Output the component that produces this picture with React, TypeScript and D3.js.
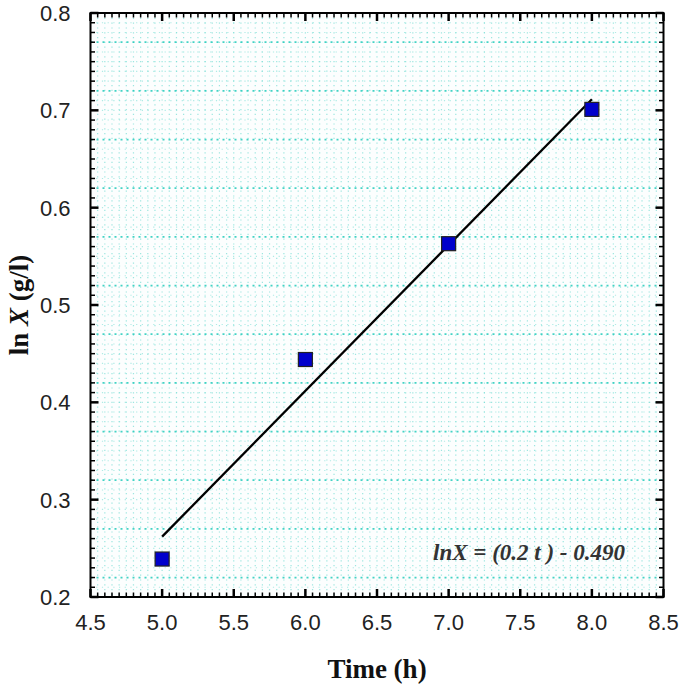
import React from "react";
import * as d3 from "d3";

const times = [5, 6, 7, 8];
const lnX = [0.239, 0.444, 0.563, 0.701];
const xTicks = [4.5, 5.0, 5.5, 6.0, 6.5, 7.0, 7.5, 8.0, 8.5];
const yTicks = [0.2, 0.3, 0.4, 0.5, 0.6, 0.7, 0.8];
const fitSlope = 0.1498;
const fitIntercept = -0.487;
const equationLabel = "lnX = (0.2 t ) - 0.490";

export default function App() {
  const W = 685, H = 690;
  const L = 90.5, R = 663.5, T = 13, B = 597;
  const x = d3.scaleLinear().domain([4.5, 8.5]).range([L, R]);
  const y = d3.scaleLinear().domain([0.2, 0.8]).range([B, T]);

  const xMinor = d3.range(0, 81).map((i) => 4.5 + i * 0.05);
  const yMinor = d3.range(0, 61).map((i) => 0.2 + i * 0.01);

  const line = d3.line<number>().x((t) => x(t)).y((t) => y(fitSlope * t + fitIntercept));

  const grid: React.ReactNode[] = [];
  xMinor.forEach((v, i) => {
    if (i === 0 || i === xMinor.length - 1) return;
    grid.push(
      <line key={"gx" + i} x1={x(v)} x2={x(v)} y1={T} y2={B} stroke="#4fd4c8" strokeWidth={1.2} strokeDasharray="1.2 3.6" opacity={0.55} />
    );
  });
  yMinor.forEach((v, i) => {
    if (i === 0 || i === yMinor.length - 1) return;
    const strong = i % 5 === 2;
    grid.push(
      <line key={"gy" + i} x1={L} x2={R} y1={y(v)} y2={y(v)} stroke={strong ? "#22ccbc" : "#6fdcd2"} strokeWidth={strong ? 1.8 : 1.1} strokeDasharray={strong ? "2 4" : "1.2 4.5"} opacity={strong ? 0.85 : 0.55} />
    );
  });

  const ticks: React.ReactNode[] = [];
  xMinor.forEach((v, i) => {
    const major = i % 10 === 0;
    const len = major ? 8 : 4.5;
    const w = major ? 2.5 : 1.5;
    ticks.push(<line key={"tb" + i} x1={x(v)} x2={x(v)} y1={B} y2={B - len} stroke="#000" strokeWidth={w} />);
    ticks.push(<line key={"tt" + i} x1={x(v)} x2={x(v)} y1={T} y2={T + len} stroke="#000" strokeWidth={w} />);
  });
  yMinor.forEach((v, i) => {
    const major = i % 10 === 0;
    const len = major ? 8 : 4.5;
    const w = major ? 2.5 : 1.5;
    ticks.push(<line key={"tl" + i} x1={L} x2={L + len} y1={y(v)} y2={y(v)} stroke="#000" strokeWidth={w} />);
    ticks.push(<line key={"tr" + i} x1={R} x2={R - len} y1={y(v)} y2={y(v)} stroke="#000" strokeWidth={w} />);
  });

  return (
    <svg width={W} height={H} style={{ position: "absolute", left: 0, top: 0 }}>
      <rect x={0} y={0} width={W} height={H} fill="#fff" />
      <rect x={L} y={T} width={R - L} height={B - T} fill="#fcfefe" />
      {grid}
      <path d={line([5, 8]) || ""} stroke="#000" strokeWidth={2.3} fill="none" />
      {times.map((t, i) => (
        <rect key={"p" + i} x={x(t) - 7} y={y(lnX[i]) - 7} width={14} height={14} fill="#0000cc" stroke="#222" strokeWidth={1.2} />
      ))}
      {ticks}
      <rect x={L} y={T} width={R - L} height={B - T} fill="none" stroke="#000" strokeWidth={2} />
      {xTicks.map((v) => (
        <text key={"xl" + v} x={x(v)} y={B + 33} textAnchor="middle" fontFamily="Liberation Sans, Arial, sans-serif" fontSize={22} fill="#222">
          {v.toFixed(1)}
        </text>
      ))}
      {yTicks.map((v) => (
        <text key={"yl" + v} x={L - 20} y={y(v) + 8} textAnchor="end" fontFamily="Liberation Sans, Arial, sans-serif" fontSize={22} fill="#222">
          {v.toFixed(1)}
        </text>
      ))}
      <text x={377} y={678} textAnchor="middle" fontFamily="Liberation Serif, Times New Roman, serif" fontWeight="bold" fontSize={27} fill="#111">
        Time (h)
      </text>
      <text transform={`translate(28, ${(T + B) / 2}) rotate(-90)`} textAnchor="middle" fontFamily="Liberation Serif, Times New Roman, serif" fontWeight="bold" fontSize={27} fill="#111">
        ln <tspan fontStyle="italic">X</tspan> (g/l)
      </text>
      <text x={433} y={560} fontFamily="Liberation Serif, Times New Roman, serif" fontWeight="bold" fontStyle="italic" fontSize={23} fill="#333">
        {equationLabel}
      </text>
    </svg>
  );
}
